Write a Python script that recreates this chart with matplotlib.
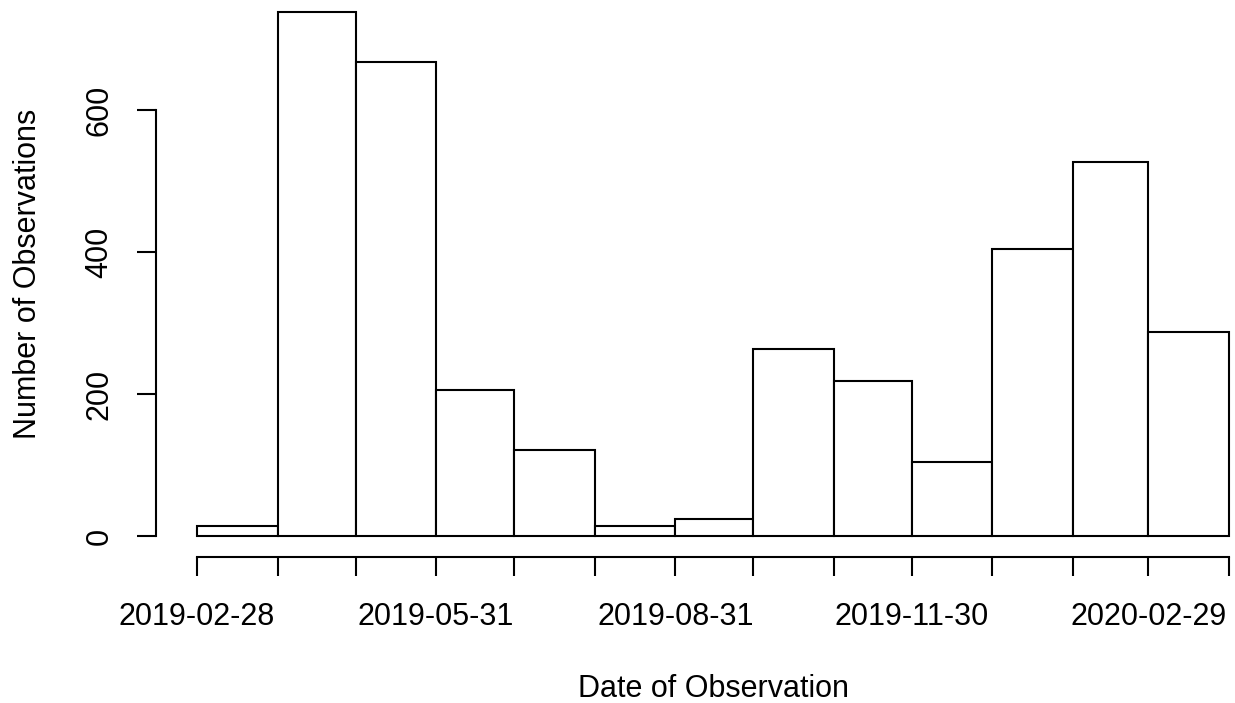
import matplotlib
matplotlib.use("Agg")
import matplotlib.pyplot as plt
import matplotlib.dates as mdates
import numpy as np

# Monthly bin edges (month ends) and observation counts per bin
bin_edges = [
    "2019-02-28", "2019-03-31", "2019-04-30", "2019-05-31", "2019-06-30",
    "2019-07-31", "2019-08-31", "2019-09-30", "2019-10-31", "2019-11-30",
    "2019-12-31", "2020-01-31", "2020-02-29", "2020-03-31",
]
counts = [14, 738, 667, 205, 121, 14, 24, 264, 218, 104, 404, 527, 287]
y_ticks = [0, 200, 400, 600]
label_every = 3

plt.rcParams["font.family"] = ["Liberation Sans", "DejaVu Sans"]

W, H = 1235, 703
fig = plt.figure(figsize=(W / 100, H / 100), dpi=100)
fig.patch.set_facecolor("white")
# plot region like R's base graphics (4% padding around the data range)
ax = fig.add_axes([155.7 / W, (H - 557) / H, 1114.6 / W, 566 / H])

edges = mdates.date2num(np.array(bin_edges, dtype="datetime64[D]"))
widths = np.diff(edges)
ax.bar(edges[:-1], counts, width=widths, align="edge",
       facecolor="white", edgecolor="black", linewidth=1.5)

span = edges[-1] - edges[0]
ax.set_xlim(edges[0] - 0.04 * span, edges[-1] + 0.04 * span)
ymax = max(counts)
ax.set_ylim(-0.04 * ymax, 1.04 * ymax)

for side in ("top", "right"):
    ax.spines[side].set_visible(False)
ax.spines["left"].set_bounds(y_ticks[0], y_ticks[-1])
ax.spines["bottom"].set_bounds(edges[0], edges[-1])
for side in ("left", "bottom"):
    ax.spines[side].set_linewidth(1.5)

ax.set_xticks(edges)
ax.set_xticklabels([d if i % label_every == 0 else "" for i, d in enumerate(bin_edges)])
ax.set_yticks(y_ticks)
ax.set_yticklabels([str(v) for v in y_ticks], rotation=90, va="center")

ax.tick_params(axis="x", direction="out", length=13.7, width=1.5, pad=18.5,
               labelsize=22)
ax.tick_params(axis="y", direction="out", length=13.7, width=1.5, pad=16.0,
               labelsize=22)

fig.text(713 / W, (H - 697) / H, "Date of Observation", ha="center",
         va="baseline", fontsize=22)
fig.text(28 / W, (H - 274) / H, "Number of Observations", ha="center",
         va="center", rotation=90, fontsize=22)

fig.savefig("out.png", dpi=100, facecolor="white")
